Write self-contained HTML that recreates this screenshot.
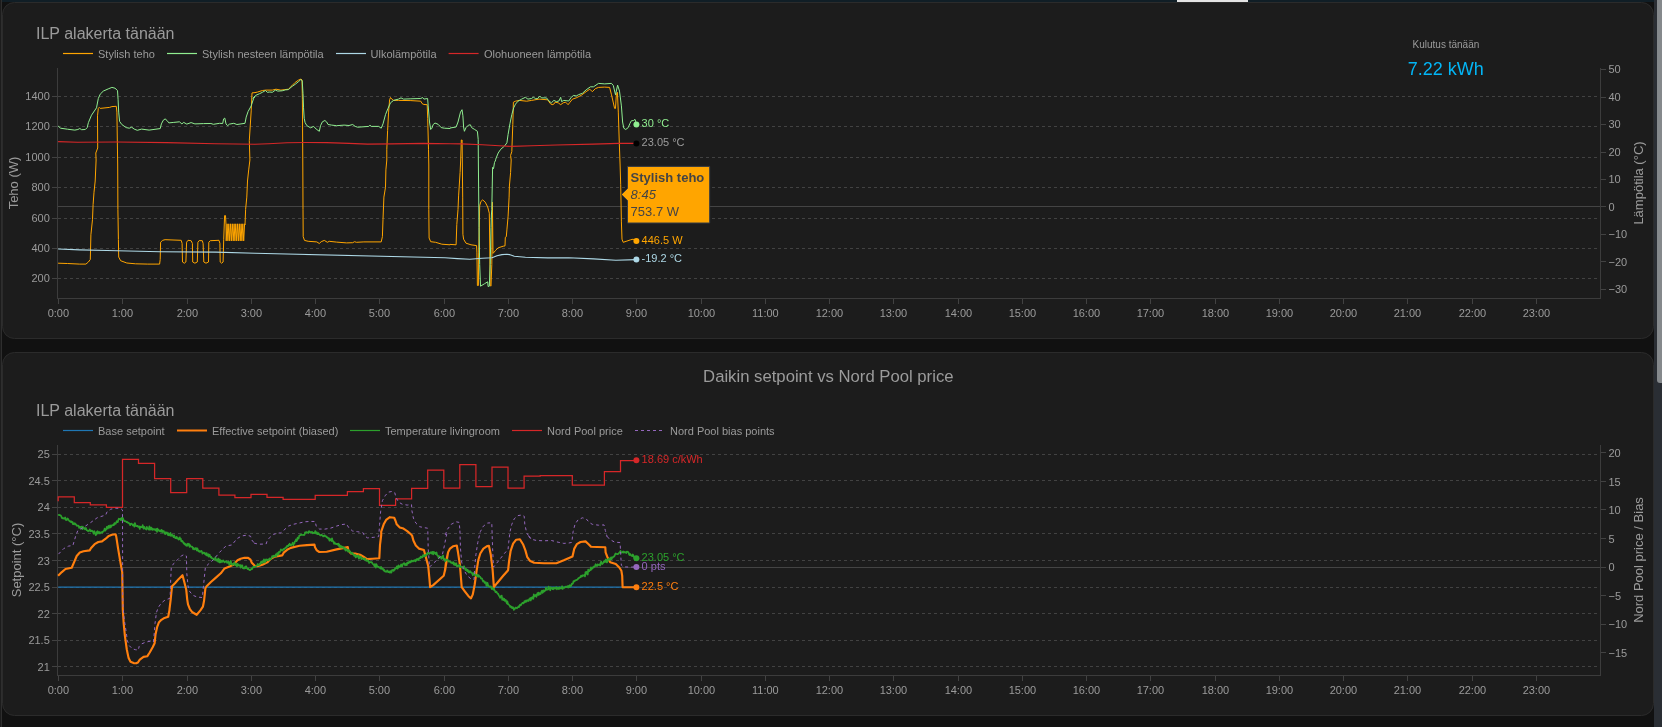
<!DOCTYPE html>
<html lang="fi"><head><meta charset="utf-8"><title>ILP alakerta</title>
<style>html,body{margin:0;padding:0;background:#111111;overflow:hidden}svg{display:block}text{font-family:"Liberation Sans", Arial, sans-serif}</style>
</head><body>
<svg width="1662" height="727" viewBox="0 0 1662 727" style="will-change:transform">
<rect width="1662" height="727" fill="#111111"/>
<rect x="2" y="0" width="1660" height="2" fill="#101e26"/>
<rect x="1177" y="0" width="71" height="2" fill="#e4e4e4"/>
<rect x="0" y="0" width="1" height="727" fill="#1c1c1c"/>
<rect x="1" y="0" width="1" height="727" fill="#2e2e2e"/>
<rect x="2.5" y="2.5" width="1651" height="336" rx="12" fill="#1c1c1c" stroke="#2b2b2b" stroke-width="1"/>
<rect x="2.5" y="352.5" width="1651" height="363" rx="12" fill="#1c1c1c" stroke="#2b2b2b" stroke-width="1"/>
<rect x="1654" y="0" width="8" height="727" fill="#2a2e34"/>
<rect x="1657" y="-6" width="10" height="389" rx="3" fill="#85898c"/>
<text x="36" y="39.0" font-size="16" fill="#9b9b9b">ILP alakerta tänään</text>
<line x1="63.0" x2="93.0" y1="53.5" y2="53.5" stroke="#ffa500" stroke-width="1.2"/>
<text x="98.0" y="57.5" font-size="11" fill="#9b9b9b">Stylish teho</text>
<line x1="167.0" x2="197.0" y1="53.5" y2="53.5" stroke="#90ee90" stroke-width="1.2"/>
<text x="202.0" y="57.5" font-size="11" fill="#9b9b9b">Stylish nesteen lämpötila</text>
<line x1="336.0" x2="366.0" y1="53.5" y2="53.5" stroke="#add8e6" stroke-width="1.2"/>
<text x="370.5" y="57.5" font-size="11" fill="#9b9b9b">Ulkolämpötila</text>
<line x1="448.6" x2="478.6" y1="53.5" y2="53.5" stroke="#d62728" stroke-width="1.2"/>
<text x="484.0" y="57.5" font-size="11" fill="#9b9b9b">Olohuoneen lämpötila</text>
<line x1="58" x2="1600" y1="96.5" y2="96.5" stroke="#424242" stroke-width="1" stroke-dasharray="3,3"/>
<line x1="52" x2="58" y1="96.5" y2="96.5" stroke="#424242" stroke-width="1"/>
<text x="49.8" y="100.0" font-size="11" fill="#9b9b9b" text-anchor="end">1400</text>
<line x1="58" x2="1600" y1="126.5" y2="126.5" stroke="#424242" stroke-width="1" stroke-dasharray="3,3"/>
<line x1="52" x2="58" y1="126.5" y2="126.5" stroke="#424242" stroke-width="1"/>
<text x="49.8" y="130.4" font-size="11" fill="#9b9b9b" text-anchor="end">1200</text>
<line x1="58" x2="1600" y1="157.5" y2="157.5" stroke="#424242" stroke-width="1" stroke-dasharray="3,3"/>
<line x1="52" x2="58" y1="157.5" y2="157.5" stroke="#424242" stroke-width="1"/>
<text x="49.8" y="160.8" font-size="11" fill="#9b9b9b" text-anchor="end">1000</text>
<line x1="58" x2="1600" y1="187.5" y2="187.5" stroke="#424242" stroke-width="1" stroke-dasharray="3,3"/>
<line x1="52" x2="58" y1="187.5" y2="187.5" stroke="#424242" stroke-width="1"/>
<text x="49.8" y="191.2" font-size="11" fill="#9b9b9b" text-anchor="end">800</text>
<line x1="58" x2="1600" y1="218.5" y2="218.5" stroke="#424242" stroke-width="1" stroke-dasharray="3,3"/>
<line x1="52" x2="58" y1="218.5" y2="218.5" stroke="#424242" stroke-width="1"/>
<text x="49.8" y="221.6" font-size="11" fill="#9b9b9b" text-anchor="end">600</text>
<line x1="58" x2="1600" y1="248.5" y2="248.5" stroke="#424242" stroke-width="1" stroke-dasharray="3,3"/>
<line x1="52" x2="58" y1="248.5" y2="248.5" stroke="#424242" stroke-width="1"/>
<text x="49.8" y="252.0" font-size="11" fill="#9b9b9b" text-anchor="end">400</text>
<line x1="58" x2="1600" y1="278.5" y2="278.5" stroke="#424242" stroke-width="1" stroke-dasharray="3,3"/>
<line x1="52" x2="58" y1="278.5" y2="278.5" stroke="#424242" stroke-width="1"/>
<text x="49.8" y="282.4" font-size="11" fill="#9b9b9b" text-anchor="end">200</text>
<line x1="58" x2="1600" y1="206.5" y2="206.5" stroke="#444444" stroke-width="1"/>
<line x1="57.5" x2="57.5" y1="68.0" y2="298.5" stroke="#3c3c3c" stroke-width="1"/>
<line x1="1600.5" x2="1600.5" y1="68.0" y2="298.5" stroke="#3c3c3c" stroke-width="1"/>
<line x1="57" x2="1601.0" y1="298.5" y2="298.5" stroke="#3c3c3c" stroke-width="1"/>
<line x1="58.5" x2="58.5" y1="299.0" y2="304.0" stroke="#424242" stroke-width="1"/>
<text x="58.4" y="317.2" font-size="11" fill="#9b9b9b" text-anchor="middle">0:00</text>
<line x1="122.5" x2="122.5" y1="299.0" y2="304.0" stroke="#424242" stroke-width="1"/>
<text x="122.4" y="317.2" font-size="11" fill="#9b9b9b" text-anchor="middle">1:00</text>
<line x1="187.5" x2="187.5" y1="299.0" y2="304.0" stroke="#424242" stroke-width="1"/>
<text x="187.4" y="317.2" font-size="11" fill="#9b9b9b" text-anchor="middle">2:00</text>
<line x1="251.5" x2="251.5" y1="299.0" y2="304.0" stroke="#424242" stroke-width="1"/>
<text x="251.4" y="317.2" font-size="11" fill="#9b9b9b" text-anchor="middle">3:00</text>
<line x1="315.5" x2="315.5" y1="299.0" y2="304.0" stroke="#424242" stroke-width="1"/>
<text x="315.4" y="317.2" font-size="11" fill="#9b9b9b" text-anchor="middle">4:00</text>
<line x1="379.5" x2="379.5" y1="299.0" y2="304.0" stroke="#424242" stroke-width="1"/>
<text x="379.4" y="317.2" font-size="11" fill="#9b9b9b" text-anchor="middle">5:00</text>
<line x1="444.5" x2="444.5" y1="299.0" y2="304.0" stroke="#424242" stroke-width="1"/>
<text x="444.4" y="317.2" font-size="11" fill="#9b9b9b" text-anchor="middle">6:00</text>
<line x1="508.5" x2="508.5" y1="299.0" y2="304.0" stroke="#424242" stroke-width="1"/>
<text x="508.4" y="317.2" font-size="11" fill="#9b9b9b" text-anchor="middle">7:00</text>
<line x1="572.5" x2="572.5" y1="299.0" y2="304.0" stroke="#424242" stroke-width="1"/>
<text x="572.4" y="317.2" font-size="11" fill="#9b9b9b" text-anchor="middle">8:00</text>
<line x1="636.5" x2="636.5" y1="299.0" y2="304.0" stroke="#424242" stroke-width="1"/>
<text x="636.4" y="317.2" font-size="11" fill="#9b9b9b" text-anchor="middle">9:00</text>
<line x1="701.5" x2="701.5" y1="299.0" y2="304.0" stroke="#424242" stroke-width="1"/>
<text x="701.4" y="317.2" font-size="11" fill="#9b9b9b" text-anchor="middle">10:00</text>
<line x1="765.5" x2="765.5" y1="299.0" y2="304.0" stroke="#424242" stroke-width="1"/>
<text x="765.4" y="317.2" font-size="11" fill="#9b9b9b" text-anchor="middle">11:00</text>
<line x1="829.5" x2="829.5" y1="299.0" y2="304.0" stroke="#424242" stroke-width="1"/>
<text x="829.4" y="317.2" font-size="11" fill="#9b9b9b" text-anchor="middle">12:00</text>
<line x1="893.5" x2="893.5" y1="299.0" y2="304.0" stroke="#424242" stroke-width="1"/>
<text x="893.4" y="317.2" font-size="11" fill="#9b9b9b" text-anchor="middle">13:00</text>
<line x1="958.5" x2="958.5" y1="299.0" y2="304.0" stroke="#424242" stroke-width="1"/>
<text x="958.4" y="317.2" font-size="11" fill="#9b9b9b" text-anchor="middle">14:00</text>
<line x1="1022.5" x2="1022.5" y1="299.0" y2="304.0" stroke="#424242" stroke-width="1"/>
<text x="1022.4" y="317.2" font-size="11" fill="#9b9b9b" text-anchor="middle">15:00</text>
<line x1="1086.5" x2="1086.5" y1="299.0" y2="304.0" stroke="#424242" stroke-width="1"/>
<text x="1086.4" y="317.2" font-size="11" fill="#9b9b9b" text-anchor="middle">16:00</text>
<line x1="1150.5" x2="1150.5" y1="299.0" y2="304.0" stroke="#424242" stroke-width="1"/>
<text x="1150.4" y="317.2" font-size="11" fill="#9b9b9b" text-anchor="middle">17:00</text>
<line x1="1215.5" x2="1215.5" y1="299.0" y2="304.0" stroke="#424242" stroke-width="1"/>
<text x="1215.4" y="317.2" font-size="11" fill="#9b9b9b" text-anchor="middle">18:00</text>
<line x1="1279.5" x2="1279.5" y1="299.0" y2="304.0" stroke="#424242" stroke-width="1"/>
<text x="1279.4" y="317.2" font-size="11" fill="#9b9b9b" text-anchor="middle">19:00</text>
<line x1="1343.5" x2="1343.5" y1="299.0" y2="304.0" stroke="#424242" stroke-width="1"/>
<text x="1343.4" y="317.2" font-size="11" fill="#9b9b9b" text-anchor="middle">20:00</text>
<line x1="1407.5" x2="1407.5" y1="299.0" y2="304.0" stroke="#424242" stroke-width="1"/>
<text x="1407.4" y="317.2" font-size="11" fill="#9b9b9b" text-anchor="middle">21:00</text>
<line x1="1472.5" x2="1472.5" y1="299.0" y2="304.0" stroke="#424242" stroke-width="1"/>
<text x="1472.4" y="317.2" font-size="11" fill="#9b9b9b" text-anchor="middle">22:00</text>
<line x1="1536.5" x2="1536.5" y1="299.0" y2="304.0" stroke="#424242" stroke-width="1"/>
<text x="1536.4" y="317.2" font-size="11" fill="#9b9b9b" text-anchor="middle">23:00</text>
<line x1="1601.0" x2="1606.0" y1="69.5" y2="69.5" stroke="#424242" stroke-width="1"/>
<text x="1608.5" y="73.4" font-size="11" fill="#9b9b9b">50</text>
<line x1="1601.0" x2="1606.0" y1="97.5" y2="97.5" stroke="#424242" stroke-width="1"/>
<text x="1608.5" y="100.9" font-size="11" fill="#9b9b9b">40</text>
<line x1="1601.0" x2="1606.0" y1="124.5" y2="124.5" stroke="#424242" stroke-width="1"/>
<text x="1608.5" y="128.3" font-size="11" fill="#9b9b9b">30</text>
<line x1="1601.0" x2="1606.0" y1="152.5" y2="152.5" stroke="#424242" stroke-width="1"/>
<text x="1608.5" y="155.8" font-size="11" fill="#9b9b9b">20</text>
<line x1="1601.0" x2="1606.0" y1="179.5" y2="179.5" stroke="#424242" stroke-width="1"/>
<text x="1608.5" y="183.3" font-size="11" fill="#9b9b9b">10</text>
<line x1="1601.0" x2="1606.0" y1="206.5" y2="206.5" stroke="#424242" stroke-width="1"/>
<text x="1608.5" y="210.8" font-size="11" fill="#9b9b9b">0</text>
<line x1="1601.0" x2="1606.0" y1="234.5" y2="234.5" stroke="#424242" stroke-width="1"/>
<text x="1608.5" y="238.3" font-size="11" fill="#9b9b9b">−10</text>
<line x1="1601.0" x2="1606.0" y1="261.5" y2="261.5" stroke="#424242" stroke-width="1"/>
<text x="1608.5" y="265.8" font-size="11" fill="#9b9b9b">−20</text>
<line x1="1601.0" x2="1606.0" y1="289.5" y2="289.5" stroke="#424242" stroke-width="1"/>
<text x="1608.5" y="293.3" font-size="11" fill="#9b9b9b">−30</text>
<text transform="translate(17.5 183.0) rotate(-90)" font-size="13" fill="#9b9b9b" text-anchor="middle">Teho (W)</text>
<text transform="translate(1642.6 183.0) rotate(-90)" font-size="13" fill="#9b9b9b" text-anchor="middle">Lämpötila (°C)</text>
<text x="828.3" y="382" font-size="16.7" fill="#9b9b9b" text-anchor="middle">Daikin setpoint vs Nord Pool price</text>
<text x="36" y="416.0" font-size="16" fill="#9b9b9b">ILP alakerta tänään</text>
<line x1="63.0" x2="93.0" y1="430.5" y2="430.5" stroke="#1f77b4" stroke-width="1.2"/>
<text x="98.0" y="434.5" font-size="11" fill="#9b9b9b">Base setpoint</text>
<line x1="177.0" x2="207.0" y1="430.5" y2="430.5" stroke="#ff7f0e" stroke-width="2.0"/>
<text x="212.0" y="434.5" font-size="11" fill="#9b9b9b">Effective setpoint (biased)</text>
<line x1="350.0" x2="380.0" y1="430.5" y2="430.5" stroke="#2ca02c" stroke-width="1.2"/>
<text x="385.0" y="434.5" font-size="11" fill="#9b9b9b">Temperature livingroom</text>
<line x1="512.0" x2="542.0" y1="430.5" y2="430.5" stroke="#d62728" stroke-width="1.2"/>
<text x="547.0" y="434.5" font-size="11" fill="#9b9b9b">Nord Pool price</text>
<line x1="635.0" x2="665.0" y1="430.5" y2="430.5" stroke="#9467bd" stroke-width="1.2" stroke-dasharray="3,3"/>
<text x="670.0" y="434.5" font-size="11" fill="#9b9b9b">Nord Pool bias points</text>
<line x1="58" x2="1600" y1="454.5" y2="454.5" stroke="#424242" stroke-width="1" stroke-dasharray="3,3"/>
<line x1="52" x2="58" y1="454.5" y2="454.5" stroke="#424242" stroke-width="1"/>
<text x="49.8" y="458.4" font-size="11" fill="#9b9b9b" text-anchor="end">25</text>
<line x1="58" x2="1600" y1="480.5" y2="480.5" stroke="#424242" stroke-width="1" stroke-dasharray="3,3"/>
<line x1="52" x2="58" y1="480.5" y2="480.5" stroke="#424242" stroke-width="1"/>
<text x="49.8" y="484.9" font-size="11" fill="#9b9b9b" text-anchor="end">24.5</text>
<line x1="58" x2="1600" y1="507.5" y2="507.5" stroke="#424242" stroke-width="1" stroke-dasharray="3,3"/>
<line x1="52" x2="58" y1="507.5" y2="507.5" stroke="#424242" stroke-width="1"/>
<text x="49.8" y="511.4" font-size="11" fill="#9b9b9b" text-anchor="end">24</text>
<line x1="58" x2="1600" y1="533.5" y2="533.5" stroke="#424242" stroke-width="1" stroke-dasharray="3,3"/>
<line x1="52" x2="58" y1="533.5" y2="533.5" stroke="#424242" stroke-width="1"/>
<text x="49.8" y="538.0" font-size="11" fill="#9b9b9b" text-anchor="end">23.5</text>
<line x1="58" x2="1600" y1="560.5" y2="560.5" stroke="#424242" stroke-width="1" stroke-dasharray="3,3"/>
<line x1="52" x2="58" y1="560.5" y2="560.5" stroke="#424242" stroke-width="1"/>
<text x="49.8" y="564.5" font-size="11" fill="#9b9b9b" text-anchor="end">23</text>
<line x1="58" x2="1600" y1="587.5" y2="587.5" stroke="#424242" stroke-width="1" stroke-dasharray="3,3"/>
<line x1="52" x2="58" y1="587.5" y2="587.5" stroke="#424242" stroke-width="1"/>
<text x="49.8" y="591.0" font-size="11" fill="#9b9b9b" text-anchor="end">22.5</text>
<line x1="58" x2="1600" y1="613.5" y2="613.5" stroke="#424242" stroke-width="1" stroke-dasharray="3,3"/>
<line x1="52" x2="58" y1="613.5" y2="613.5" stroke="#424242" stroke-width="1"/>
<text x="49.8" y="617.5" font-size="11" fill="#9b9b9b" text-anchor="end">22</text>
<line x1="58" x2="1600" y1="640.5" y2="640.5" stroke="#424242" stroke-width="1" stroke-dasharray="3,3"/>
<line x1="52" x2="58" y1="640.5" y2="640.5" stroke="#424242" stroke-width="1"/>
<text x="49.8" y="644.0" font-size="11" fill="#9b9b9b" text-anchor="end">21.5</text>
<line x1="58" x2="1600" y1="666.5" y2="666.5" stroke="#424242" stroke-width="1" stroke-dasharray="3,3"/>
<line x1="52" x2="58" y1="666.5" y2="666.5" stroke="#424242" stroke-width="1"/>
<text x="49.8" y="670.5" font-size="11" fill="#9b9b9b" text-anchor="end">21</text>
<line x1="58" x2="1600" y1="567.5" y2="567.5" stroke="#444444" stroke-width="1"/>
<line x1="57.5" x2="57.5" y1="445.0" y2="675.5" stroke="#3c3c3c" stroke-width="1"/>
<line x1="1600.5" x2="1600.5" y1="445.0" y2="675.5" stroke="#3c3c3c" stroke-width="1"/>
<line x1="57" x2="1601.0" y1="675.5" y2="675.5" stroke="#3c3c3c" stroke-width="1"/>
<line x1="58.5" x2="58.5" y1="676.0" y2="681.0" stroke="#424242" stroke-width="1"/>
<text x="58.4" y="694.2" font-size="11" fill="#9b9b9b" text-anchor="middle">0:00</text>
<line x1="122.5" x2="122.5" y1="676.0" y2="681.0" stroke="#424242" stroke-width="1"/>
<text x="122.4" y="694.2" font-size="11" fill="#9b9b9b" text-anchor="middle">1:00</text>
<line x1="187.5" x2="187.5" y1="676.0" y2="681.0" stroke="#424242" stroke-width="1"/>
<text x="187.4" y="694.2" font-size="11" fill="#9b9b9b" text-anchor="middle">2:00</text>
<line x1="251.5" x2="251.5" y1="676.0" y2="681.0" stroke="#424242" stroke-width="1"/>
<text x="251.4" y="694.2" font-size="11" fill="#9b9b9b" text-anchor="middle">3:00</text>
<line x1="315.5" x2="315.5" y1="676.0" y2="681.0" stroke="#424242" stroke-width="1"/>
<text x="315.4" y="694.2" font-size="11" fill="#9b9b9b" text-anchor="middle">4:00</text>
<line x1="379.5" x2="379.5" y1="676.0" y2="681.0" stroke="#424242" stroke-width="1"/>
<text x="379.4" y="694.2" font-size="11" fill="#9b9b9b" text-anchor="middle">5:00</text>
<line x1="444.5" x2="444.5" y1="676.0" y2="681.0" stroke="#424242" stroke-width="1"/>
<text x="444.4" y="694.2" font-size="11" fill="#9b9b9b" text-anchor="middle">6:00</text>
<line x1="508.5" x2="508.5" y1="676.0" y2="681.0" stroke="#424242" stroke-width="1"/>
<text x="508.4" y="694.2" font-size="11" fill="#9b9b9b" text-anchor="middle">7:00</text>
<line x1="572.5" x2="572.5" y1="676.0" y2="681.0" stroke="#424242" stroke-width="1"/>
<text x="572.4" y="694.2" font-size="11" fill="#9b9b9b" text-anchor="middle">8:00</text>
<line x1="636.5" x2="636.5" y1="676.0" y2="681.0" stroke="#424242" stroke-width="1"/>
<text x="636.4" y="694.2" font-size="11" fill="#9b9b9b" text-anchor="middle">9:00</text>
<line x1="701.5" x2="701.5" y1="676.0" y2="681.0" stroke="#424242" stroke-width="1"/>
<text x="701.4" y="694.2" font-size="11" fill="#9b9b9b" text-anchor="middle">10:00</text>
<line x1="765.5" x2="765.5" y1="676.0" y2="681.0" stroke="#424242" stroke-width="1"/>
<text x="765.4" y="694.2" font-size="11" fill="#9b9b9b" text-anchor="middle">11:00</text>
<line x1="829.5" x2="829.5" y1="676.0" y2="681.0" stroke="#424242" stroke-width="1"/>
<text x="829.4" y="694.2" font-size="11" fill="#9b9b9b" text-anchor="middle">12:00</text>
<line x1="893.5" x2="893.5" y1="676.0" y2="681.0" stroke="#424242" stroke-width="1"/>
<text x="893.4" y="694.2" font-size="11" fill="#9b9b9b" text-anchor="middle">13:00</text>
<line x1="958.5" x2="958.5" y1="676.0" y2="681.0" stroke="#424242" stroke-width="1"/>
<text x="958.4" y="694.2" font-size="11" fill="#9b9b9b" text-anchor="middle">14:00</text>
<line x1="1022.5" x2="1022.5" y1="676.0" y2="681.0" stroke="#424242" stroke-width="1"/>
<text x="1022.4" y="694.2" font-size="11" fill="#9b9b9b" text-anchor="middle">15:00</text>
<line x1="1086.5" x2="1086.5" y1="676.0" y2="681.0" stroke="#424242" stroke-width="1"/>
<text x="1086.4" y="694.2" font-size="11" fill="#9b9b9b" text-anchor="middle">16:00</text>
<line x1="1150.5" x2="1150.5" y1="676.0" y2="681.0" stroke="#424242" stroke-width="1"/>
<text x="1150.4" y="694.2" font-size="11" fill="#9b9b9b" text-anchor="middle">17:00</text>
<line x1="1215.5" x2="1215.5" y1="676.0" y2="681.0" stroke="#424242" stroke-width="1"/>
<text x="1215.4" y="694.2" font-size="11" fill="#9b9b9b" text-anchor="middle">18:00</text>
<line x1="1279.5" x2="1279.5" y1="676.0" y2="681.0" stroke="#424242" stroke-width="1"/>
<text x="1279.4" y="694.2" font-size="11" fill="#9b9b9b" text-anchor="middle">19:00</text>
<line x1="1343.5" x2="1343.5" y1="676.0" y2="681.0" stroke="#424242" stroke-width="1"/>
<text x="1343.4" y="694.2" font-size="11" fill="#9b9b9b" text-anchor="middle">20:00</text>
<line x1="1407.5" x2="1407.5" y1="676.0" y2="681.0" stroke="#424242" stroke-width="1"/>
<text x="1407.4" y="694.2" font-size="11" fill="#9b9b9b" text-anchor="middle">21:00</text>
<line x1="1472.5" x2="1472.5" y1="676.0" y2="681.0" stroke="#424242" stroke-width="1"/>
<text x="1472.4" y="694.2" font-size="11" fill="#9b9b9b" text-anchor="middle">22:00</text>
<line x1="1536.5" x2="1536.5" y1="676.0" y2="681.0" stroke="#424242" stroke-width="1"/>
<text x="1536.4" y="694.2" font-size="11" fill="#9b9b9b" text-anchor="middle">23:00</text>
<line x1="1601.0" x2="1606.0" y1="452.5" y2="452.5" stroke="#424242" stroke-width="1"/>
<text x="1608.5" y="457.2" font-size="11" fill="#9b9b9b">20</text>
<line x1="1601.0" x2="1606.0" y1="481.5" y2="481.5" stroke="#424242" stroke-width="1"/>
<text x="1608.5" y="485.7" font-size="11" fill="#9b9b9b">15</text>
<line x1="1601.0" x2="1606.0" y1="509.5" y2="509.5" stroke="#424242" stroke-width="1"/>
<text x="1608.5" y="514.2" font-size="11" fill="#9b9b9b">10</text>
<line x1="1601.0" x2="1606.0" y1="538.5" y2="538.5" stroke="#424242" stroke-width="1"/>
<text x="1608.5" y="542.7" font-size="11" fill="#9b9b9b">5</text>
<line x1="1601.0" x2="1606.0" y1="567.5" y2="567.5" stroke="#424242" stroke-width="1"/>
<text x="1608.5" y="571.2" font-size="11" fill="#9b9b9b">0</text>
<line x1="1601.0" x2="1606.0" y1="595.5" y2="595.5" stroke="#424242" stroke-width="1"/>
<text x="1608.5" y="599.7" font-size="11" fill="#9b9b9b">−5</text>
<line x1="1601.0" x2="1606.0" y1="624.5" y2="624.5" stroke="#424242" stroke-width="1"/>
<text x="1608.5" y="628.2" font-size="11" fill="#9b9b9b">−10</text>
<line x1="1601.0" x2="1606.0" y1="652.5" y2="652.5" stroke="#424242" stroke-width="1"/>
<text x="1608.5" y="656.7" font-size="11" fill="#9b9b9b">−15</text>
<text transform="translate(20.6 560.0) rotate(-90)" font-size="13" fill="#9b9b9b" text-anchor="middle">Setpoint (°C)</text>
<text transform="translate(1642.6 560.0) rotate(-90)" font-size="13" fill="#9b9b9b" text-anchor="middle">Nord Pool price / Bias</text>
<path d="M58.1 263.2L67.4 263.5L79.8 264.1L85.9 264.1L88.4 262.0L90.3 259.5L90.9 234.8L92.5 219.4L93.1 204.6L94.0 192.2L95.2 181.0L96.1 160.0L95.8 153.0L97.7 148.0L97.5 115.8L98.3 108.4L99.2 107.4L100.2 108.4L109.5 107.4L111.9 106.6L116.3 106.3L116.9 112.1L117.7 165.0L117.9 209.5L118.4 239.2L118.4 239.7L118.7 257.0L120.6 260.7L126.8 263.0L135.4 263.8L147.8 264.1L159.6 264.1L160.2 259.5L160.6 242.2L162.7 240.3L165.1 239.7L181.2 240.3L182.1 243.4L182.5 262.0L184.3 263.2L185.9 262.0L186.6 242.2L188.0 240.3L191.1 240.7L192.4 243.4L192.7 262.0L194.9 263.2L197.3 262.0L197.9 242.2L199.2 240.6L202.3 240.7L203.1 243.4L203.8 262.0L206.0 263.2L208.5 262.0L208.8 242.2L210.3 240.7L219.0 240.3L219.9 243.4L220.2 262.0L221.5 263.2L223.1 262.0L223.7 239.7L224.6 215.6L225.5 215.6L226.0 224.9L226.2 240.9L227.1 223.8L227.9 240.9L228.8 223.8L229.7 240.9L230.6 223.8L231.4 240.9L232.3 223.8L233.2 240.9L234.1 223.8L234.9 240.9L235.8 223.8L236.7 240.9L237.6 223.8L238.4 240.9L239.3 223.8L240.2 240.9L241.1 223.8L241.9 240.9L242.8 223.8L243.7 240.9L244.6 223.8L245.0 224.9L245.6 210.0L245.6 209.5L246.8 197.1L247.5 181.0L248.7 169.9L249.9 160.0L249.3 140.6L251.2 110.9L252.0 92.9L255.0 92.6L257.4 92.1L262.4 90.5L266.1 90.1L272.3 90.1L276.0 89.2L280.9 90.1L284.7 89.6L288.4 89.2L292.1 85.5L295.2 82.4L298.3 80.2L301.0 79.0L302.0 80.0L302.4 99.8L302.8 165.0L303.0 209.5L303.2 236.7L304.5 240.4L308.2 241.3L316.8 241.9L319.3 243.5L321.2 241.7L324.3 240.4L327.4 242.3L329.2 241.3L336.6 242.1L346.5 242.9L352.7 242.7L354.6 241.7L356.4 242.3L363.9 241.9L381.2 241.9L382.4 236.7L383.0 219.4L383.9 197.1L385.5 187.2L385.9 169.9L386.8 160.0L386.8 149.3L387.6 130.7L388.6 112.1L389.6 99.8L390.5 97.5L391.7 99.1L393.6 100.4L398.5 100.4L410.9 100.6L420.8 101.2L422.0 103.5L423.9 104.5L427.2 104.7L427.7 118.3L428.5 149.3L428.8 165.0L428.8 209.5L429.1 238.0L430.7 241.7L435.6 242.3L441.8 244.2L450.0 244.8L450.0 244.4L456.1 244.8L456.8 224.4L458.0 209.5L458.6 195.9L460.1 172.4L460.7 160.0L461.3 140.0L462.1 140.0L462.3 160.0L462.7 197.1L462.9 234.3L463.6 239.2L466.0 243.2L471.0 244.8L476.6 245.6L476.9 252.1L477.4 285.5L478.4 285.5L478.7 252.1L479.7 205.8L480.9 201.5L482.7 199.9L485.2 202.1L487.7 207.0L489.3 213.2L489.8 250.0L490.2 285.5L491.0 286.2L491.8 264.5L492.4 202.1L493.0 253.4L495.7 250.3L498.2 247.8L503.2 246.2L505.0 245.9L505.3 237.3L506.3 236.7L506.9 229.9L508.1 216.2L509.1 197.1L509.4 186.0L510.6 172.4L511.2 160.0L510.6 155.4L511.8 151.7L512.8 124.5L513.4 102.2L515.5 101.2L519.3 100.4L526.7 101.2L531.6 100.4L539.1 99.1L547.7 99.8L550.2 103.5L552.1 104.7L553.9 104.1L555.1 102.2L558.2 102.8L560.7 104.7L563.2 102.8L565.7 102.2L568.1 104.7L570.0 102.2L572.5 99.1L576.2 97.9L581.1 95.4L586.1 91.7L589.8 89.2L592.3 91.7L595.4 88.6L598.5 87.4L604.7 87.1L609.6 87.4L611.5 94.8L614.6 108.4L615.5 108.4L616.4 93.6L617.4 92.3L618.3 112.1L619.3 143.1L620.1 165.0L620.7 184.8L621.4 221.9L622.0 239.2L623.2 242.3L626.9 241.1L630.6 239.8L633.1 239.2L636.6 241.1" fill="none" stroke="#ffa500" stroke-width="1.0" stroke-linejoin="round" />
<path d="M58.1 126.0L60.6 128.2L67.4 129.2L74.8 130.1L77.9 129.5L79.8 128.5L81.6 129.7L85.3 129.5L87.2 127.6L88.4 122.6L91.5 115.2L96.5 107.8L98.3 98.5L100.2 94.2L103.3 91.1L108.2 88.9L111.9 87.4L115.0 88.2L117.5 90.5L118.1 99.8L118.7 112.1L119.6 121.4L121.8 124.5L126.2 127.6L129.3 128.2L131.7 127.2L134.2 129.1L137.3 130.3L141.6 129.1L149.1 130.1L160.2 128.6L161.4 123.9L163.3 120.2L165.1 118.9L167.0 120.5L168.9 122.9L173.8 122.4L179.4 121.8L181.9 123.9L183.7 122.4L186.8 124.1L191.1 122.6L194.9 123.9L203.5 123.6L210.9 123.5L213.4 124.3L219.6 123.3L222.7 123.5L223.6 118.9L224.8 118.1L226.0 123.9L227.6 125.7L229.5 124.1L233.8 123.3L236.9 124.5L245.0 123.3L246.2 117.1L248.1 111.5L251.2 105.9L253.6 98.5L255.0 96.0L253.1 98.5L255.6 95.4L259.3 93.8L262.4 92.3L265.5 90.5L267.3 92.3L269.8 92.0L272.3 92.3L275.4 90.1L277.8 91.1L282.2 90.8L285.3 89.9L288.4 89.6L292.1 86.4L295.2 84.3L298.3 81.8L300.7 79.7L302.2 80.6L303.0 93.6L303.5 107.2L304.2 118.3L305.1 122.6L306.9 125.7L310.6 127.8L313.7 126.4L316.2 129.1L319.3 131.3L320.5 125.7L322.4 121.8L324.9 120.5L326.7 122.0L328.0 124.5L331.7 125.1L336.6 125.7L344.1 125.1L349.0 125.5L352.7 124.5L355.2 126.4L357.7 127.2L368.8 126.4L370.0 125.1L371.3 126.4L378.7 126.4L381.2 128.2L383.0 123.9L385.5 114.6L388.0 108.4L390.5 102.8L393.6 100.4L398.5 99.1L401.0 97.9L403.5 99.1L410.9 98.8L420.8 98.5L422.6 97.5L423.9 99.1L427.6 98.5L428.2 105.9L429.5 122.0L430.7 129.5L431.9 128.2L433.2 124.5L435.0 123.0L438.1 124.3L441.2 127.6L444.3 128.2L450.0 128.5L450.0 128.0L456.1 127.0L458.0 122.0L460.5 112.1L462.0 109.7L462.9 115.8L463.6 127.0L464.4 131.3L466.0 127.6L468.5 125.1L470.4 124.8L471.6 127.6L474.7 129.5L477.4 131.3L478.2 139.4L478.4 165.0L479.0 227.4L479.7 264.5L480.5 286.2L484.6 283.7L487.7 281.8L488.1 286.5L489.3 286.2L490.2 264.5L491.0 227.4L491.4 215.0L491.8 209.5L492.6 167.4L493.5 168.7L494.5 162.5L495.7 160.0L495.7 159.2L498.2 153.0L500.7 149.3L504.4 146.2L506.9 142.8L508.1 134.4L510.0 123.3L511.8 114.6L513.7 107.8L515.5 104.1L518.0 101.2L521.7 99.1L525.4 97.3L527.9 99.1L531.6 98.5L533.5 97.0L535.3 98.8L537.8 98.5L539.7 96.0L541.5 97.9L546.5 97.9L549.0 101.0L551.4 102.8L553.9 100.4L556.4 101.6L558.9 101.0L560.7 97.3L561.6 101.6L563.8 100.4L568.8 101.0L571.2 97.3L573.7 95.4L576.2 96.0L578.7 94.6L582.4 93.3L586.1 89.9L590.4 86.8L593.5 86.8L598.5 83.4L604.7 83.9L611.5 83.4L613.3 85.5L615.5 94.8L617.6 85.1L619.5 91.1L621.4 105.9L622.6 122.0L623.8 128.2L625.7 129.5L628.2 127.6L630.0 123.3L631.3 120.8L633.7 120.5L635.0 119.3L636.6 124.5" fill="none" stroke="#90ee90" stroke-width="1.0" stroke-linejoin="round" />
<path d="M58.1 249.0L79.8 249.9L107.0 250.5L160.2 251.7L215.9 252.1L255.0 253.3L445.0 257.7L457.4 258.6L469.8 259.3L482.1 258.3L492.0 257.7L497.0 255.8L501.9 254.6L506.9 254.2L509.4 254.6L514.3 256.2L525.4 257.3L547.7 257.9L568.8 257.7L593.5 258.9L615.8 260.2L636.6 259.6" fill="none" stroke="#add8e6" stroke-width="1.1" stroke-linejoin="round" />
<path d="M58.1 141.6L77.3 142.2L116.9 142.0L166.4 142.6L215.9 143.7L255.0 144.3L268.6 143.7L287.1 142.8L305.7 142.5L326.7 142.6L349.0 143.4L367.6 144.1L392.3 143.9L423.3 143.4L450.0 143.8L461.1 143.9L482.1 144.7L499.5 145.8L511.8 146.4L531.6 145.8L556.4 145.0L593.5 144.1L618.3 143.4L636.6 143.4" fill="none" stroke="#d62728" stroke-width="1.15" stroke-linejoin="round" />
<line x1="58.2" x2="636.6" y1="587.05" y2="587.05" stroke="#1f77b4" stroke-width="1.25"/>
<path d="M58.1 575.8L61.8 572.1L65.5 569.0L71.7 567.7L73.6 563.4L76.7 556.0L79.8 552.5L83.5 551.3L89.7 550.4L90.9 548.3L94.6 544.2L98.3 542.0L102.0 541.4L105.7 538.7L108.8 535.9L111.9 534.7L115.6 534.3L116.3 536.8L118.1 548.6L120.6 563.4L122.2 572.1L122.5 591.9L122.8 610.4L122.8 609.9L123.7 623.5L124.9 635.8L126.8 649.5L128.6 658.1L130.5 661.8L133.6 663.1L136.1 663.3L137.9 662.5L139.8 659.6L143.5 656.9L147.2 656.3L149.7 652.5L152.8 647.0L154.6 643.3L155.5 634.6L157.1 627.2L159.0 622.2L161.4 619.8L164.5 617.9L168.2 616.7L169.5 609.9L169.5 609.2L170.7 599.3L172.0 586.3L175.0 583.2L178.8 578.9L182.5 575.2L184.3 582.0L186.2 589.4L187.2 599.3L188.0 604.3L189.9 609.2L192.4 612.3L196.7 614.8L200.4 610.4L202.9 606.7L204.1 600.5L205.4 588.2L206.6 586.3L210.9 582.0L215.9 577.6L220.8 573.3L224.6 568.4L229.5 566.5L233.2 564.7L237.5 560.3L240.6 558.7L244.4 557.8L248.1 557.8L250.5 559.7L251.8 562.8L255.0 565.9L257.4 566.1L262.4 564.7L267.3 562.4L270.4 559.1L274.8 556.6L282.2 555.4L284.0 552.3L287.1 549.8L290.8 547.9L299.5 545.8L306.9 545.1L314.4 544.6L315.0 547.3L316.8 550.4L319.3 552.0L326.7 551.7L336.6 549.4L344.1 547.9L347.8 547.1L348.4 550.4L350.9 553.5L355.2 553.5L360.1 554.8L363.9 557.0L367.0 559.1L372.5 558.7L379.3 558.2L380.0 544.9L381.2 535.0L381.2 531.7L383.7 524.3L386.1 519.9L389.9 517.2L394.2 517.8L395.4 520.5L396.7 524.3L399.8 527.4L403.5 528.6L407.2 531.1L410.9 534.2L412.1 535.6L413.4 540.5L415.8 545.5L418.9 548.6L423.9 550.0L425.7 556.6L428.2 565.9L429.5 579.5L430.1 587.2L433.2 585.1L443.7 575.8L444.9 570.8L446.2 560.9L448.0 552.9L445.0 570.8L446.2 560.9L448.1 552.3L450.0 548.6L453.0 546.3L456.8 545.5L458.0 552.3L459.9 564.7L461.1 579.5L461.7 587.2L464.8 591.3L468.5 596.2L471.0 598.4L472.8 594.4L474.7 584.5L476.6 570.8L478.4 559.7L480.3 553.5L483.4 548.6L487.1 546.1L488.9 545.8L490.8 554.8L492.6 569.6L493.9 587.2L497.0 583.2L503.2 575.8L508.1 570.2L509.1 560.9L510.6 551.0L513.1 543.6L516.2 539.7L519.9 539.3L523.0 544.2L525.4 550.4L527.3 557.2L529.8 560.7L534.1 562.8L544.0 563.2L556.4 563.2L563.8 560.3L572.5 556.6L574.3 548.6L576.8 544.2L580.5 542.0L585.5 541.4L588.6 544.2L591.0 546.7L597.2 547.0L605.3 547.3L605.6 552.3L607.7 557.8L610.2 562.2L615.8 564.0L619.5 567.7L621.4 570.8L622.2 575.8L622.6 587.2L636.6 587.2" fill="none" stroke="#ff7f0e" stroke-width="2.15" stroke-linejoin="round" />
<path d="M58.5 514.1L59.0 515.2L59.6 515.0L60.2 515.4L60.7 515.3L61.3 516.4L61.9 518.0L62.4 517.8L63.0 518.6L63.5 518.2L64.1 518.6L64.6 518.7L65.2 517.4L65.7 519.8L66.3 519.8L66.8 520.1L67.4 518.5L67.9 518.7L68.4 519.7L68.9 520.3L69.4 521.2L70.0 521.2L70.5 521.9L71.0 521.2L71.5 522.3L72.0 522.6L72.5 521.9L73.0 524.2L73.6 523.5L74.1 524.4L74.6 523.2L75.1 523.5L75.6 524.2L76.1 524.7L76.7 525.7L77.2 525.8L77.7 525.5L78.2 525.5L78.7 526.2L79.2 528.0L79.8 526.7L80.3 527.7L80.8 528.0L81.3 526.5L81.8 528.0L82.3 529.2L82.8 526.6L83.4 528.2L83.9 528.5L84.4 528.0L84.9 529.3L85.4 529.0L85.9 528.0L86.5 530.1L87.0 530.2L87.6 530.6L88.1 531.3L88.7 530.5L89.2 530.5L89.8 529.5L90.3 531.4L90.9 530.5L91.4 531.0L92.0 530.6L92.5 531.2L93.1 531.9L93.6 533.7L94.2 531.2L94.7 532.0L95.3 533.8L95.8 535.1L96.4 534.2L96.9 531.9L97.5 531.2L98.0 533.5L98.6 532.4L99.1 531.9L99.7 533.5L100.2 533.4L100.8 532.4L101.3 532.2L101.9 532.0L102.4 532.6L103.0 531.5L103.5 531.0L104.1 530.7L104.6 528.6L105.2 530.6L105.7 530.0L106.3 529.3L106.8 526.8L107.4 527.6L107.9 528.5L108.5 525.9L109.0 527.0L109.6 527.7L110.1 525.3L110.7 527.5L111.2 526.2L111.8 525.3L112.3 525.4L112.9 525.3L113.4 524.5L114.0 525.0L114.5 523.1L115.1 523.0L115.6 523.9L116.2 522.5L116.7 521.2L117.2 522.2L117.8 522.1L118.3 520.0L118.8 518.7L119.4 519.2L119.9 519.1L120.4 518.8L120.9 520.2L121.4 518.0L121.9 519.9L122.5 517.6L123.0 518.4L123.5 520.0L124.0 520.9L124.5 521.1L125.0 521.0L125.5 521.3L126.1 521.6L126.6 522.2L127.1 521.8L127.6 522.4L128.1 522.9L128.6 522.7L129.2 523.6L129.7 523.7L130.2 525.2L130.7 524.0L131.2 523.6L131.7 523.9L132.3 524.4L132.8 525.4L133.3 524.5L133.9 525.3L134.4 526.7L134.9 523.1L135.4 524.5L136.0 525.9L136.5 526.2L137.0 526.2L137.6 525.8L138.1 526.9L138.6 526.8L139.2 526.3L139.7 528.9L140.2 527.3L140.7 526.6L141.2 527.1L141.7 527.1L142.2 527.3L142.7 525.2L143.2 527.2L143.7 528.6L144.3 526.8L144.8 527.9L145.3 528.9L145.8 528.9L146.3 529.5L146.8 526.9L147.3 528.2L147.8 528.3L148.3 529.2L148.8 529.6L149.4 526.4L149.9 529.7L150.4 527.5L150.9 529.4L151.4 527.6L151.9 529.0L152.4 529.9L152.9 528.8L153.4 529.2L153.9 529.7L154.4 529.2L155.0 529.0L155.5 530.4L156.0 530.1L156.5 529.0L157.0 531.8L157.5 528.7L158.1 530.6L158.6 529.9L159.1 530.4L159.7 531.1L160.2 530.9L160.7 531.5L161.3 529.9L161.8 530.1L162.3 532.2L162.9 531.0L163.4 531.2L163.9 531.1L164.4 533.6L164.9 533.3L165.4 534.1L165.9 532.2L166.5 533.2L167.0 532.4L167.5 534.2L168.0 535.1L168.5 533.2L169.0 535.4L169.5 535.1L170.0 534.3L170.5 533.0L171.0 536.0L171.6 535.0L172.1 534.7L172.6 535.7L173.1 536.0L173.6 537.2L174.1 535.3L174.6 537.4L175.2 537.9L175.7 538.2L176.2 537.0L176.7 536.8L177.2 538.6L177.7 538.1L178.2 538.3L178.8 539.7L179.3 538.7L179.8 537.4L180.3 539.4L180.8 538.6L181.3 541.3L181.9 541.3L182.4 541.0L182.9 541.9L183.4 543.0L183.9 542.8L184.4 544.3L185.0 543.6L185.5 544.8L186.0 545.4L186.5 545.8L187.0 544.1L187.5 545.7L188.0 543.6L188.6 544.5L189.1 544.0L189.6 546.8L190.1 545.1L190.6 546.4L191.1 546.5L191.7 546.9L192.2 546.7L192.7 547.7L193.2 549.3L193.7 548.0L194.2 548.7L194.7 549.4L195.3 548.6L195.8 548.0L196.3 548.8L196.8 550.5L197.3 548.4L197.8 549.6L198.4 551.3L198.9 551.4L199.4 551.0L199.9 552.0L200.4 551.8L200.9 551.0L201.5 550.9L202.0 552.0L202.5 553.7L203.0 552.7L203.5 552.7L204.0 553.1L204.5 552.7L205.1 554.2L205.6 553.5L206.1 555.1L206.6 553.1L207.1 555.6L207.6 555.0L208.2 554.2L208.7 556.7L209.2 556.1L209.7 554.7L210.2 556.1L210.7 557.3L211.2 556.9L211.8 558.2L212.3 558.4L212.8 558.6L213.3 558.5L213.8 559.6L214.3 559.3L214.9 559.4L215.4 557.4L215.9 560.2L216.4 560.7L216.9 559.5L217.4 559.4L218.0 561.6L218.5 558.6L219.0 560.6L219.5 562.4L220.0 559.7L220.5 561.2L221.0 562.3L221.6 560.7L222.1 561.4L222.6 561.8L223.1 560.4L223.6 561.2L224.1 561.7L224.7 562.3L225.2 561.7L225.7 561.6L226.2 561.1L226.7 561.7L227.2 562.9L227.8 562.4L228.3 561.7L228.8 561.8L229.3 565.0L229.8 563.8L230.3 563.5L230.8 560.9L231.4 563.8L231.9 563.8L232.4 564.9L232.9 564.0L233.4 563.7L233.9 564.3L234.5 562.4L235.0 565.1L235.5 564.6L236.0 563.9L236.5 565.8L237.0 566.3L237.5 563.8L238.1 564.6L238.6 565.5L239.1 565.6L239.6 565.2L240.1 564.9L240.6 567.7L241.2 567.0L241.7 565.3L242.3 565.4L242.8 568.2L243.4 567.8L243.9 568.7L244.5 568.0L245.0 566.8L245.6 568.0L246.1 566.2L246.7 567.6L247.2 568.5L247.8 569.2L248.3 568.4L248.8 569.2L249.4 570.0L249.9 570.2L250.4 570.0L251.0 569.3L251.5 568.5L252.0 569.1L252.5 568.1L253.0 567.0L253.7 566.9L254.3 567.2L255.0 566.8L255.6 566.5L256.2 565.9L256.7 565.8L257.2 565.2L257.7 564.0L258.3 565.1L258.8 565.3L259.3 564.5L259.8 563.7L260.3 564.0L260.8 562.5L261.3 561.4L261.9 562.8L262.4 561.6L262.9 562.8L263.4 560.9L263.9 559.4L264.4 560.4L265.0 562.4L265.5 560.4L266.0 559.3L266.5 559.5L267.0 560.4L267.5 560.1L268.0 559.5L268.6 560.3L269.1 559.4L269.6 558.4L270.1 558.7L270.6 559.3L271.1 558.4L271.7 558.1L272.2 556.0L272.7 556.5L273.2 556.9L273.7 555.7L274.2 556.6L274.8 555.9L275.3 555.7L275.8 554.4L276.3 556.3L276.8 554.8L277.3 553.1L277.8 553.0L278.4 554.7L278.9 551.8L279.4 552.4L279.9 552.1L280.4 550.8L280.9 549.4L281.5 550.3L282.0 550.1L282.5 550.5L283.0 549.8L283.5 548.9L284.0 549.3L284.6 548.7L285.1 548.1L285.6 547.7L286.1 547.1L286.6 547.6L287.1 545.8L287.6 545.9L288.2 546.2L288.7 544.7L289.2 545.3L289.7 543.7L290.2 544.6L290.7 545.4L291.3 545.1L291.8 544.3L292.3 543.9L292.8 542.7L293.3 545.2L293.8 543.5L294.4 543.5L294.9 541.3L295.4 541.3L296.0 539.4L296.5 541.1L297.0 540.7L297.6 537.7L298.1 538.6L298.6 538.6L299.2 535.9L299.7 535.3L300.2 535.3L300.7 535.0L301.3 534.1L301.8 535.0L302.4 535.0L302.9 535.0L303.5 534.8L304.0 535.2L304.6 534.6L305.1 532.3L305.7 532.7L306.2 532.1L306.8 532.0L307.3 532.7L307.9 532.7L308.4 533.0L309.0 531.2L309.5 531.4L310.1 532.3L310.6 532.1L311.2 532.1L311.7 532.4L312.2 532.0L312.7 533.3L313.2 533.1L313.7 532.9L314.3 532.5L314.8 533.1L315.3 531.0L315.8 532.6L316.3 533.6L316.8 532.4L317.4 534.1L317.9 534.2L318.4 533.1L319.0 534.2L319.5 534.3L320.0 535.2L320.5 535.5L321.1 535.1L321.6 534.6L322.1 535.4L322.7 535.6L323.2 536.5L323.7 536.3L324.3 535.6L324.8 535.3L325.3 536.4L325.8 536.3L326.3 536.3L326.8 537.4L327.4 537.3L327.9 538.1L328.4 538.7L328.9 538.2L329.4 540.7L329.9 538.8L330.4 540.2L331.0 539.7L331.5 541.0L332.0 538.3L332.5 540.1L333.0 541.3L333.5 542.0L334.1 543.8L334.6 542.4L335.1 543.6L335.6 543.5L336.1 544.1L336.6 544.0L337.1 543.8L337.7 544.7L338.2 543.6L338.7 545.9L339.2 544.3L339.7 545.7L340.2 547.6L340.8 545.9L341.3 546.4L341.8 547.7L342.3 547.0L342.8 546.6L343.3 547.9L343.9 548.4L344.4 548.9L344.9 547.9L345.4 550.4L345.9 550.6L346.4 549.5L346.9 550.0L347.5 549.7L348.0 551.6L348.5 550.1L349.0 551.6L349.5 551.0L350.0 551.2L350.6 552.7L351.1 553.6L351.6 552.8L352.1 552.6L352.6 554.3L353.1 553.9L353.7 554.6L354.2 555.9L354.7 556.0L355.2 554.9L355.7 557.5L356.2 555.8L356.7 556.8L357.3 555.8L357.8 556.5L358.3 555.3L358.8 558.6L359.3 558.4L359.8 556.5L360.4 556.5L360.9 556.6L361.4 559.2L361.9 558.1L362.4 558.6L362.9 558.6L363.4 559.0L364.0 558.4L364.5 559.6L365.0 558.6L365.5 560.0L366.0 560.5L366.5 560.9L367.1 560.5L367.6 560.2L368.1 561.3L368.6 561.0L369.1 563.0L369.6 562.6L370.2 562.1L370.7 562.1L371.2 562.1L371.7 562.2L372.2 563.0L372.7 563.8L373.2 564.2L373.8 564.5L374.3 566.1L374.8 564.1L375.3 565.0L375.8 567.6L376.3 564.0L376.9 565.4L377.4 566.3L377.9 566.6L378.4 567.2L378.9 566.9L379.4 567.7L380.0 567.8L380.5 568.7L381.0 566.8L381.5 567.9L382.0 569.0L382.5 568.4L383.0 568.7L383.6 570.4L384.1 569.7L384.6 571.1L385.1 571.5L385.6 571.4L386.1 571.9L386.7 571.5L387.2 570.4L387.7 571.7L388.3 572.2L388.8 571.5L389.3 571.9L389.9 572.7L390.4 571.0L390.9 571.9L391.4 572.6L392.0 570.2L392.5 570.4L393.0 569.8L393.6 570.9L394.1 569.6L394.7 569.8L395.2 568.1L395.8 568.4L396.3 568.1L396.9 566.3L397.4 568.7L398.0 567.9L398.5 565.4L399.0 567.3L399.5 566.3L400.1 566.6L400.6 566.2L401.1 564.4L401.6 565.3L402.1 566.5L402.6 564.5L403.2 563.9L403.7 563.4L404.2 563.2L404.7 564.3L405.2 565.3L405.7 564.0L406.2 563.7L406.8 565.2L407.3 562.7L407.8 562.4L408.3 563.3L408.8 563.1L409.3 561.6L409.9 561.3L410.4 562.4L410.9 562.1L411.4 560.6L411.9 561.3L412.4 560.9L413.0 561.5L413.5 560.8L414.0 560.6L414.5 560.2L415.0 561.2L415.5 561.3L416.0 559.6L416.6 560.4L417.1 558.8L417.6 559.3L418.1 559.6L418.6 560.0L419.1 558.2L419.7 558.2L420.2 558.2L420.7 556.5L421.2 557.6L421.7 556.7L422.2 557.4L422.8 555.9L423.3 554.9L423.8 556.3L424.4 556.1L424.9 555.1L425.5 556.0L426.0 554.7L426.6 554.0L427.1 554.6L427.7 552.5L428.2 552.9L428.7 553.3L429.3 553.9L429.8 552.8L430.3 553.1L430.9 552.1L431.4 552.7L431.9 553.7L432.5 551.8L433.2 554.4L433.8 551.9L434.4 552.5L434.9 553.1L435.5 554.2L436.0 552.7L436.5 552.4L437.1 555.1L437.6 555.6L438.1 555.9L438.7 558.0L439.2 556.2L439.8 556.6L440.3 557.5L440.9 557.4L441.4 558.8L442.0 556.7L442.5 557.8L443.1 555.5L443.6 559.4L444.2 558.6L444.7 560.0L445.3 561.3L445.8 559.7L446.4 559.7L446.9 559.8L447.5 559.7L448.0 560.2L448.5 561.5L449.1 561.2L449.6 561.5L450.1 561.5L450.7 562.7L451.2 562.6L451.7 562.3L452.2 563.3L452.7 562.8L453.3 562.2L453.8 564.7L454.3 564.1L454.8 563.2L455.3 565.2L455.8 564.8L456.3 563.4L456.9 566.4L457.4 565.6L457.9 566.2L458.4 565.9L458.9 565.8L459.4 564.8L460.0 567.1L460.5 566.5L461.0 566.5L461.5 567.2L462.0 567.2L462.5 567.9L463.0 567.2L463.6 567.7L464.1 566.2L464.6 568.0L465.1 569.3L465.6 570.1L466.1 569.0L466.7 569.5L467.2 571.3L467.7 569.9L468.2 571.2L468.7 572.3L469.2 571.2L469.8 572.5L470.3 571.2L470.8 572.3L471.3 572.3L471.8 572.8L472.3 574.0L472.8 575.3L473.4 573.1L473.9 573.4L474.4 574.7L474.9 573.7L475.4 575.3L475.9 575.7L476.5 575.2L477.0 576.2L477.6 574.7L478.1 576.9L478.7 575.2L479.2 576.2L479.8 576.6L480.3 577.0L480.9 578.4L481.4 578.3L482.0 578.5L482.5 580.0L483.1 581.5L483.6 580.7L484.2 581.7L484.7 583.0L485.3 582.8L485.8 582.1L486.4 585.8L486.9 586.0L487.5 582.9L488.0 584.9L488.6 585.8L489.1 586.7L489.7 586.9L490.2 586.5L490.8 586.3L491.3 587.8L491.9 589.0L492.4 587.7L492.9 588.3L493.4 589.6L494.0 588.5L494.5 590.4L495.0 590.8L495.5 592.1L496.1 591.6L496.6 592.0L497.1 592.9L497.6 593.7L498.1 593.7L498.6 594.8L499.1 595.9L499.7 596.8L500.2 597.8L500.7 596.2L501.2 596.9L501.7 595.6L502.2 599.8L502.8 598.1L503.3 599.1L503.8 600.1L504.3 598.9L504.8 600.9L505.3 601.0L505.8 599.9L506.4 602.2L506.9 603.4L507.4 601.4L508.0 604.2L508.5 604.2L509.1 605.0L509.6 605.5L510.2 606.8L510.7 606.1L511.3 607.5L511.8 607.0L512.3 608.2L512.9 607.2L513.4 608.1L513.9 609.9L514.4 609.1L514.9 608.8L515.4 607.6L516.0 607.5L516.5 608.0L517.0 608.3L517.5 607.5L518.0 607.2L518.6 606.3L519.1 607.1L519.7 605.2L520.2 604.6L520.8 605.4L521.3 604.3L521.9 603.6L522.4 602.9L523.0 602.8L523.5 603.3L524.0 602.7L524.5 601.1L525.0 602.2L525.5 601.7L526.1 600.4L526.6 601.7L527.1 600.5L527.6 600.1L528.1 600.8L528.6 601.0L529.2 599.0L529.7 599.6L530.2 598.1L530.7 600.5L531.2 597.8L531.7 598.9L532.3 597.0L532.8 597.9L533.3 598.8L533.8 594.4L534.3 595.9L534.8 596.3L535.3 595.5L535.9 594.8L536.4 596.9L536.9 594.9L537.4 593.2L537.9 595.0L538.4 592.6L539.0 594.8L539.5 593.0L540.0 593.4L540.5 594.1L541.0 592.9L541.5 591.3L542.1 590.7L542.6 592.8L543.2 592.0L543.7 590.3L544.3 591.4L544.8 590.7L545.4 590.5L545.9 587.6L546.5 588.9L547.0 589.8L547.5 589.5L548.1 589.5L548.6 586.5L549.1 588.6L549.7 588.7L550.2 590.3L550.7 587.4L551.2 587.9L551.7 588.3L552.3 589.0L552.8 587.9L553.3 589.3L553.8 587.6L554.3 588.6L554.8 587.9L555.4 588.5L555.9 587.8L556.4 587.1L556.9 589.3L557.4 588.6L557.9 587.8L558.4 588.4L559.0 589.1L559.5 587.3L560.0 588.0L560.5 588.5L561.0 588.5L561.5 587.7L562.1 586.2L562.6 589.0L563.1 588.1L563.6 587.8L564.1 587.4L564.6 587.8L565.2 587.1L565.7 586.6L566.2 586.7L566.7 586.8L567.2 586.7L567.7 586.1L568.2 587.6L568.8 585.8L569.3 587.0L569.8 585.2L570.4 585.9L570.9 586.3L571.4 584.9L571.9 583.7L572.5 583.9L573.0 583.3L573.5 581.1L574.1 581.5L574.6 581.5L575.1 580.3L575.7 580.2L576.2 580.1L576.7 579.9L577.3 579.7L577.8 579.2L578.4 578.2L578.9 578.1L579.5 577.6L580.0 577.3L580.6 577.2L581.1 575.6L581.7 576.4L582.2 576.3L582.8 575.2L583.3 575.6L583.9 575.7L584.4 574.8L585.0 576.4L585.5 572.1L586.1 573.8L586.6 571.9L587.1 573.7L587.7 574.6L588.2 569.7L588.7 571.4L589.3 571.2L589.8 570.0L590.3 570.2L590.9 567.4L591.4 569.6L591.9 568.8L592.5 568.0L593.0 567.1L593.5 567.7L594.0 566.5L594.5 566.8L595.1 565.9L595.6 564.2L596.1 565.8L596.6 565.8L597.1 566.0L597.6 564.3L598.2 564.8L598.7 565.1L599.2 564.4L599.7 565.1L600.2 565.5L600.7 562.7L601.2 561.6L601.8 563.7L602.3 564.0L602.8 563.3L603.3 562.9L603.8 561.4L604.3 561.1L604.9 562.2L605.4 560.4L605.9 559.4L606.4 559.8L606.9 562.5L607.4 561.8L608.0 559.3L608.5 559.0L609.0 559.6L609.5 558.5L610.0 560.0L610.5 558.6L611.0 557.4L611.6 559.2L612.1 557.4L612.6 557.7L613.1 557.1L613.6 556.5L614.1 556.7L614.7 555.5L615.2 554.1L615.7 553.4L616.2 553.9L616.7 554.0L617.2 554.2L617.8 553.9L618.3 554.0L618.8 553.4L619.4 552.4L619.9 552.3L620.5 550.9L621.0 552.3L621.6 552.7L622.1 552.5L622.7 551.8L623.2 551.5L623.7 552.5L624.3 551.8L624.8 552.4L625.3 552.4L625.9 552.1L626.4 553.1L626.9 551.5L627.5 552.0L628.0 551.9L628.5 552.3L629.1 554.6L629.6 555.0L630.1 553.9L630.6 554.6L631.2 555.5L631.7 555.5L632.2 556.2L632.8 554.5L633.3 555.4L633.8 556.6L634.4 557.8L634.9 557.1L635.5 556.7L636.0 557.5L636.6 557.7" fill="none" stroke="#2ca02c" stroke-width="1.7" stroke-linejoin="round" />
<path d="M58.2 501.3V496.8H74.3V502.6H90.3V504.8H106.4V507.3H122.5V459.3H138.5V463.4H154.6V478.5H170.7V492.5H186.7V478.5H202.8V488.1H218.9V495.2H234.9V497.6H251.0V494.3H267.0V497.3H283.1V499.3H299.2V499.3H315.2V495.4H331.3V495.4H347.4V491.5H363.4V488.6H379.5V505.3H395.6V498.9H411.6V488.4H427.7V470.2H443.8V488.1H459.8V464.6H475.9V486.5H492.0V467.1H508.0V488.1H524.1V476.2H540.2V475.7H556.2V475.7H572.3V485.0H588.3V485.0H604.4V471.7H620.5V460.5H636.5" fill="none" stroke="#d62728" stroke-width="1.25"/>
<path d="M58.5 554.1L63.7 548.6L68.6 546.1L72.9 545.5L74.2 541.1L76.0 535.0L77.9 530.4L83.5 527.4L90.9 522.4L97.1 517.8L102.0 516.2L105.7 515.0L107.0 511.9L110.7 509.2L115.6 508.2L120.6 508.4L122.5 510.0L122.7 595.0L123.1 607.4L124.3 619.8L126.2 632.1L127.4 640.8L129.3 645.7L132.4 648.8L135.4 649.7L138.2 650.1L139.2 646.4L141.6 643.9L145.3 642.3L149.1 641.4L153.4 642.0L154.0 635.8L155.0 623.5L156.5 612.3L158.3 607.4L161.4 603.0L165.1 600.0L168.9 598.7L170.1 598.1L170.7 579.5L171.3 567.1L173.8 563.4L177.5 559.7L181.2 556.0L184.3 554.4L186.4 556.0L186.8 573.3L188.0 585.7L189.9 591.9L193.6 595.6L197.3 597.1L202.3 597.5L203.5 585.7L205.4 567.1L208.5 564.0L213.4 559.7L219.6 552.3L225.8 546.1L232.0 544.9L236.9 538.7L241.9 535.9L246.8 535.2L250.5 536.2L252.4 541.1L255.0 543.0L253.7 543.0L258.7 544.2L266.1 544.0L267.3 540.5L269.8 537.4L273.5 534.3L278.5 533.1L280.9 532.9L288.4 526.1L293.3 524.3L299.5 523.0L304.5 521.8L310.6 521.4L315.2 521.5L316.2 526.1L319.3 529.0L324.3 529.2L330.4 528.2L336.6 526.1L341.6 524.6L346.5 524.0L349.0 528.0L352.7 531.1L357.7 531.7L363.2 532.9L364.5 536.0L367.6 537.9L373.8 537.3L378.7 536.6L379.6 524.3L380.6 511.9L382.4 500.7L385.5 495.2L388.6 492.1L391.7 491.5L394.8 492.7L395.8 497.0L398.5 502.0L402.2 504.2L407.2 505.1L411.5 504.5L411.9 510.6L413.4 518.1L415.8 523.0L419.6 526.7L424.5 527.7L427.6 528.2L427.8 530.0L428.2 548.6L429.5 567.1L433.2 563.4L438.1 559.1L442.5 554.1L444.3 546.1L445.5 539.9L446.8 533.7L445.0 535.4L447.5 529.2L451.2 524.3L456.1 521.8L459.2 522.4L459.9 530.4L459.9 530.0L460.5 548.6L461.7 562.2L463.6 569.6L467.3 575.8L471.0 578.9L474.1 579.5L474.7 567.1L475.9 554.8L477.8 542.4L480.3 531.7L483.4 526.1L487.7 523.0L491.8 522.8L492.0 530.0L492.6 548.6L493.5 567.1L499.5 559.7L504.4 553.5L508.1 549.2L508.7 542.4L510.0 531.7L511.8 524.3L514.3 518.7L518.0 515.6L521.7 515.0L524.2 516.2L524.8 524.3L526.7 532.9L530.4 538.5L527.9 535.0L531.6 539.3L536.6 540.5L544.0 540.8L551.4 540.5L558.9 542.4L563.8 543.4L568.8 543.0L571.9 542.4L572.5 536.2L573.1 531.7L575.0 524.3L578.0 519.9L582.4 517.8L586.1 518.7L589.2 522.4L592.3 524.3L598.5 525.2L604.0 524.9L605.3 530.4L607.1 536.6L605.9 535.0L609.6 539.3L614.6 542.1L620.1 542.6L620.7 554.8L621.4 565.3L623.2 566.9L630.6 567.1L636.6 566.9" fill="none" stroke="#9467bd" stroke-width="1.0" stroke-linejoin="round" stroke-dasharray="3,3"/>
<circle cx="636.4" cy="241.1" r="3" fill="#ffa500"/>
<text x="641.6" y="243.9" font-size="11" fill="#ffa500">446.5 W</text>
<circle cx="636.4" cy="124.6" r="3" fill="#90ee90"/>
<text x="641.6" y="127.4" font-size="11" fill="#90ee90">30 °C</text>
<circle cx="636.4" cy="259.4" r="3" fill="#add8e6"/>
<text x="641.6" y="262.2" font-size="11" fill="#add8e6">-19.2 °C</text>
<circle cx="636.4" cy="143.4" r="3" fill="#000000"/>
<text x="641.6" y="146.2" font-size="11" fill="#9b9b9b">23.05 °C</text>
<circle cx="636.4" cy="587.2" r="3" fill="#ff7f0e"/>
<text x="641.6" y="590.0" font-size="11" fill="#ff7f0e">22.5 °C</text>
<circle cx="636.4" cy="558.2" r="3" fill="#2ca02c"/>
<text x="641.6" y="561.0" font-size="11" fill="#2ca02c">23.05 °C</text>
<circle cx="636.4" cy="460.3" r="3" fill="#d62728"/>
<text x="641.6" y="463.1" font-size="11" fill="#d62728">18.69 c/kWh</text>
<circle cx="636.4" cy="566.9" r="3" fill="#9467bd"/>
<text x="641.6" y="569.7" font-size="11" fill="#9467bd">0 pts</text>
<path d="M621.3 194.5L627.5 188.5V166.4H709.7V223H627.5V200.5Z" fill="#ffa500" stroke="#343a44" stroke-width="1"/>
<text x="630.6" y="182" font-size="13" font-weight="bold" fill="#444444">Stylish teho</text>
<text x="630.6" y="199" font-size="13" font-style="italic" fill="#444444">8:45</text>
<text x="630.6" y="216" font-size="13" fill="#444444">753.7 W</text>
<text x="1445.9" y="48" font-size="10" fill="#9b9b9b" text-anchor="middle">Kulutus tänään</text>
<text x="1445.8" y="75" font-size="18" fill="#03b5f5" text-anchor="middle">7.22 kWh</text>
</svg></body></html>
